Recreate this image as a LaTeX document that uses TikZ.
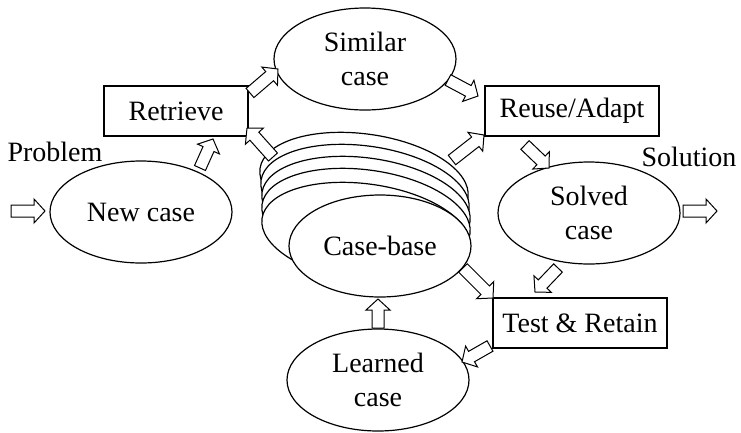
\documentclass[tikz,border=0pt]{standalone}
\usepackage{fontspec}
\setmainfont{Liberation Serif}
\usetikzlibrary{shapes.geometric,calc}
\tikzset{
  txt/.style={font=\fontsize{28}{34}\selectfont, align=center, inner sep=0pt},
  ell/.style={txt, ellipse, draw, fill=white, line width=1.2pt, minimum width=182pt, minimum height=102pt},
  backell/.style={ellipse, draw, fill=white, line width=1.2pt, minimum width=210pt, minimum height=98pt, inner sep=0pt, rotate=-8},
  boxn/.style={txt, rectangle, draw, fill=white, line width=1.8pt},
  barr/.style={draw, fill=white, line width=1.0pt, line join=miter}
}
\newcommand\barrow[2]{%
  \draw[barr] let \p1=(#1), \p2=(#2),
    \n1={atan2(\y2-\y1,\x2-\x1)}, \n2={veclen(\x2-\x1,\y2-\y1)} in
    ($(\p1)+(\n1+90:6pt)$)
    -- ($(\p1)+(\n1:{(\n2-11)*1pt})+(\n1+90:6pt)$)
    -- ($(\p1)+(\n1:{(\n2-11)*1pt})+(\n1+90:12pt)$)
    -- (\p2)
    -- ($(\p1)+(\n1:{(\n2-11)*1pt})+(\n1-90:12pt)$)
    -- ($(\p1)+(\n1:{(\n2-11)*1pt})+(\n1-90:6pt)$)
    -- ($(\p1)+(\n1-90:6pt)$) -- cycle;}
\begin{document}
\begin{tikzpicture}[x=1pt,y=-1pt]
\useasboundingbox (0,0) rectangle (741,432);
% case-base stack
\node[backell] (cb1) at (364,183) {};
\node[backell] (cb2) at (365,195) {};
\node[backell] (cb3) at (366,207) {};
\node[backell] (cb4) at (366,219) {};
\node[backell] (cb5) at (366,233) {};
\node[ell] (cb) at (380,246) {Case-base};
% other ellipses
\node[ell] (sim) at (365,59) {Similar\\case};
\node[ell] (new) at (141,212) {New case};
\node[ell] (sol) at (589,213) {Solved\\case};
\node[ell] (lrn) at (378,380) {Learned\\case};
% boxes
\node[boxn, minimum width=144pt, minimum height=50pt] (ret) at (176,111) {Retrieve};
\node[boxn, minimum width=174pt, minimum height=50pt] (reu) at (572,111) {Reuse/Adapt};
\node[boxn, minimum width=174pt, minimum height=50pt] (tst) at (580,323) {Test \& Retain};
% labels
\node[txt] (prob) at (55,152) {Problem};
\node[txt] (soln) at (689,157) {Solution};
% arrow end points
\coordinate (inS) at (11,211);   \coordinate (inE) at (45,211);
\coordinate (outS) at (683,211); \coordinate (outE) at (717,211);
\coordinate (a1s) at (200,168);  \coordinate (a1e) at (213,139);
\coordinate (a2s) at (250,93);   \coordinate (a2e) at (278,69);
\coordinate (a3s) at (273,157);  \coordinate (a3e) at (247,128);
\coordinate (a4s) at (448,80);   \coordinate (a4e) at (478,96);
\coordinate (a5s) at (452,160);  \coordinate (a5e) at (484,135);
\coordinate (a6s) at (525,145);  \coordinate (a6e) at (549,168);
\coordinate (a7s) at (558,268);  \coordinate (a7e) at (535,292);
\coordinate (a8s) at (463,268);  \coordinate (a8e) at (493,298);
\coordinate (a9s) at (490,346);  \coordinate (a9e) at (462,362);
\coordinate (a10s) at (378,328); \coordinate (a10e) at (378,299);
\barrow{inS}{inE}
\barrow{outS}{outE}
\barrow{a1s}{a1e}
\barrow{a2s}{a2e}
\barrow{a3s}{a3e}
\barrow{a4s}{a4e}
\barrow{a5s}{a5e}
\barrow{a6s}{a6e}
\barrow{a7s}{a7e}
\barrow{a8s}{a8e}
\barrow{a9s}{a9e}
\barrow{a10s}{a10e}
\end{tikzpicture}
\end{document}
